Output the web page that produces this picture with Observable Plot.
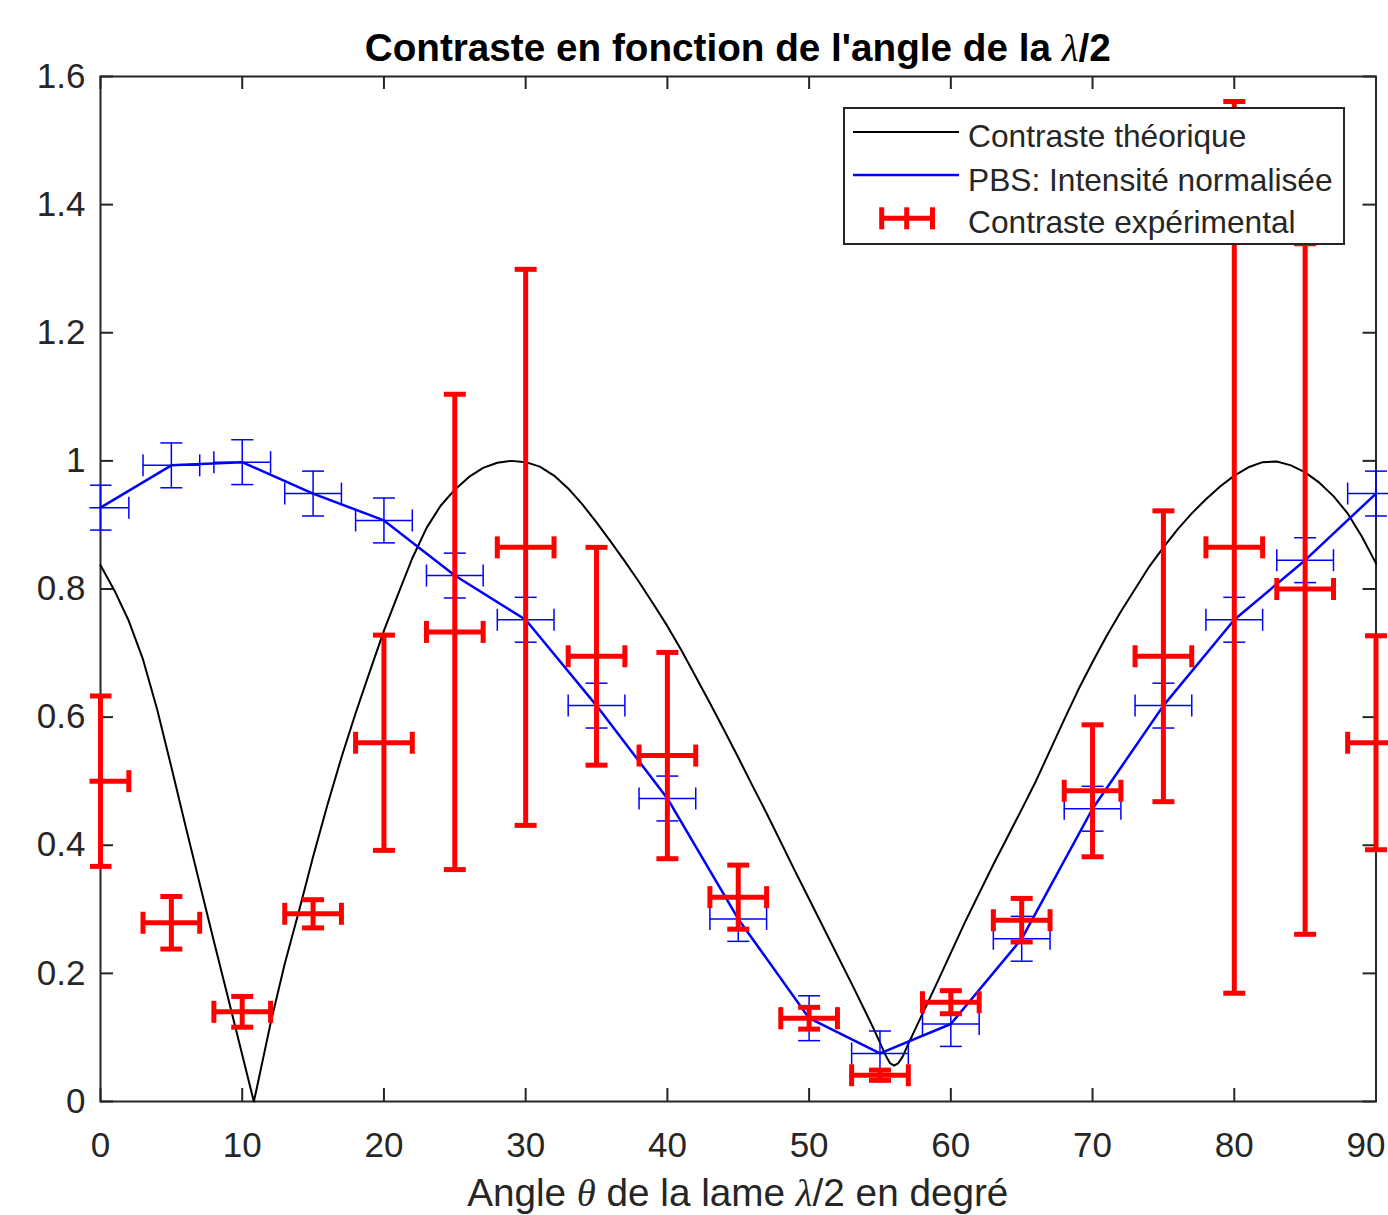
<!DOCTYPE html>
<html>
<head>
<meta charset="utf-8">
<script src="https://cdn.jsdelivr.net/npm/d3@7"></script>
<script src="https://cdn.jsdelivr.net/npm/@observablehq/plot@0.6"></script>
<style>
  html, body { margin: 0; padding: 0; background: #fff; }
  body { width: 1388px; height: 1215px; overflow: hidden; position: relative;
         font-family: "Liberation Sans", Arial, Helvetica, sans-serif; }
  #title { position: absolute; z-index: 2; left: 0; top: 28px; height: 39px;
           width: 1475.5px; text-align: center; font-size: 38.7px; line-height: 39px; font-weight: bold;
           color: #000; white-space: nowrap; }
  .tex { font-family: "Liberation Serif", "DejaVu Serif", serif; font-style: italic; font-weight: normal; }
  #chart { margin-top: 50px; }
  #chart svg { display: block; }
  #xlabel { position: absolute; z-index: 2; left: 0; top: 1174px; height: 38px; width: 1475.5px; text-align: center;
            font-size: 38.7px; line-height: 38px; color: #262626; white-space: nowrap; }
  #legend { position: absolute; left: 843px; top: 107px; width: 502px; height: 138px; z-index: 3; }
</style>
</head>
<body>
<div id="title">Contraste en fonction de l'angle de la <span class="tex">λ</span>/2</div>
<div id="chart"></div>
<div id="xlabel">Angle <span class="tex">θ</span> de la lame <span class="tex">λ</span>/2 en degré</div>
<div id="legend"></div>
<script>
// ---------- data ----------
const xTicks = [0, 10, 20, 30, 40, 50, 60, 70, 80, 90];
const yTicks = [0, 0.2, 0.4, 0.6, 0.8, 1, 1.2, 1.4, 1.6];

const angles = [0, 5, 10, 15, 20, 25, 30, 35, 40, 45, 50, 55, 60, 65, 70, 75, 80, 85, 90];
const angleErr = 2;

// PBS: intensité normalisée (blue)
const pbsValues = [0.927, 0.993, 0.998, 0.949, 0.907, 0.821, 0.752, 0.618, 0.473, 0.285,
                   0.130, 0.075, 0.121, 0.254, 0.457, 0.618, 0.752, 0.845, 0.949];
const pbsErr = [0.035, 0.035, 0.035, 0.035, 0.035, 0.035, 0.035, 0.035, 0.035, 0.035,
                0.035, 0.035, 0.035, 0.035, 0.035, 0.035, 0.035, 0.035, 0.035];

// Contraste expérimental (red)
const expValues = [0.500, 0.279, 0.140, 0.293, 0.560, 0.733, 0.865, 0.695, 0.540, 0.319,
                   0.130, 0.041, 0.155, 0.283, 0.485, 0.695, 0.865, 0.800, 0.560];
const expErr = [0.133, 0.041, 0.024, 0.022, 0.168, 0.371, 0.434, 0.170, 0.161, 0.050,
                0.017, 0.008, 0.018, 0.034, 0.103, 0.227, 0.696, 0.539, 0.167];

// Contraste théorique (black curve)
const theoryTheta = [0, 1, 2, 3, 4, 5, 6, 7, 8, 9, 10, 10.82, 11, 12, 13, 14, 15, 16, 17, 18, 19,
  20, 21, 22, 23, 24, 25, 26, 27, 28, 29, 30, 31, 32, 33, 34, 35, 36, 37, 38, 39,
  40, 41, 42, 43, 44, 45, 46, 47, 48, 49, 50, 51, 52, 53, 54, 54.5, 55, 55.4, 55.7, 56, 56.3, 56.6,
  57, 58, 59, 60, 61, 62, 63, 64, 65, 66, 67, 68, 69, 70, 71, 72, 73, 74, 75, 76, 77, 78, 79,
  80, 81, 82, 83, 84, 85, 86, 87, 88, 89, 90];
const theoryC = [0.837, 0.797, 0.750, 0.690, 0.612, 0.522, 0.430, 0.340, 0.250, 0.162, 0.073, 0.000, 0.018,
  0.122, 0.215, 0.297, 0.382, 0.462, 0.537, 0.606, 0.671,
  0.735, 0.792, 0.848, 0.895, 0.930, 0.955, 0.975, 0.989, 0.997, 1.000, 0.998, 0.991, 0.977, 0.957, 0.932,
  0.904, 0.874, 0.843, 0.811, 0.777,
  0.742, 0.704, 0.663, 0.622, 0.580, 0.537, 0.493, 0.450, 0.405, 0.360, 0.316, 0.272, 0.228, 0.184, 0.139,
  0.116, 0.092, 0.072, 0.060, 0.056, 0.060, 0.070,
  0.090, 0.137, 0.184, 0.232, 0.280, 0.325, 0.370, 0.413, 0.456, 0.500, 0.548, 0.596, 0.643, 0.686, 0.727,
  0.765, 0.800, 0.835, 0.865, 0.893, 0.918, 0.940, 0.960,
  0.977, 0.990, 0.998, 0.999, 0.993, 0.982, 0.966, 0.945, 0.918, 0.882, 0.840];

const legendLabels = ["Contraste théorique", "PBS: Intensité normalisée", "Contraste expérimental"];

// ---------- build tables ----------
const theory = theoryTheta.map((t, i) => ({theta: t, c: theoryC[i]}));
const pbs = angles.map((a, i) => ({theta: a, v: pbsValues[i], e: pbsErr[i]}));
const expt = angles.map((a, i) => ({theta: a, v: expValues[i], e: expErr[i]}));

const BLUE = "#0000ff", RED = "#ff0000", AX = "#262626";

// cap symbols (line segments of half-length r)
const hSeg = {draw(ctx, size) { const r = Math.sqrt(size / Math.PI); ctx.moveTo(-r, 0); ctx.lineTo(r, 0); }};
const vSeg = {draw(ctx, size) { const r = Math.sqrt(size / Math.PI); ctx.moveTo(0, -r); ctx.lineTo(0, r); }};

function errorBars(data, color, sw, cap) {
  return [
    Plot.ruleX(data, {x: "theta", y1: d => d.v - d.e, y2: d => d.v + d.e, stroke: color, strokeWidth: sw}),
    Plot.ruleY(data, {y: "v", x1: d => d.theta - angleErr, x2: d => d.theta + angleErr, stroke: color, strokeWidth: sw}),
    Plot.dot(data, {x: "theta", y: d => d.v + d.e, symbol: hSeg, r: cap, stroke: color, strokeWidth: sw, fill: "none"}),
    Plot.dot(data, {x: "theta", y: d => d.v - d.e, symbol: hSeg, r: cap, stroke: color, strokeWidth: sw, fill: "none"}),
    Plot.dot(data, {x: d => d.theta - angleErr, y: "v", symbol: vSeg, r: cap, stroke: color, strokeWidth: sw, fill: "none"}),
    Plot.dot(data, {x: d => d.theta + angleErr, y: "v", symbol: vSeg, r: cap, stroke: color, strokeWidth: sw, fill: "none"})
  ];
}

const W = 1388;
const mT = 26, mR = 12.5, mB = 79, mL = 100;
const innerH = 1025;
const H = mT + innerH + mB;
const innerW = W - mL - mR;
const tickLen = 13;

const chart = Plot.plot({
  width: W, height: H,
  marginTop: mT, marginRight: mR, marginBottom: mB, marginLeft: mL,
  x: {domain: [0, 90]},
  y: {domain: [0, 1.6]},
  style: {fontFamily: "'Liberation Sans', Arial, Helvetica, sans-serif", fontSize: "35px", color: AX, background: "white"},
  marks: [
    Plot.frame({stroke: AX, strokeWidth: 2}),
    Plot.ruleX(xTicks, {x: d => d, stroke: AX, strokeWidth: 2, insetTop: innerH - tickLen}),
    Plot.ruleX(xTicks, {x: d => d, stroke: AX, strokeWidth: 2, insetBottom: innerH - tickLen}),
    Plot.ruleY(yTicks, {y: d => d, stroke: AX, strokeWidth: 2, insetRight: innerW - tickLen}),
    Plot.ruleY(yTicks, {y: d => d, stroke: AX, strokeWidth: 2, insetLeft: innerW - tickLen}),
    Plot.axisX({ticks: xTicks.slice(0, -1), tickSize: 0, tickPadding: 31, fontSize: 35, label: null, tickFormat: d => String(d)}),
    Plot.axisX({ticks: xTicks.slice(-1), tickSize: 0, tickPadding: 31, fontSize: 35, label: null, tickFormat: d => String(d), dx: -10}),
    Plot.axisY({ticks: yTicks, tickSize: 0, tickPadding: 15, fontSize: 35, label: null, tickFormat: d => String(d)}),
    Plot.line(theory, {x: "theta", y: "c", stroke: "black", strokeWidth: 2}),
    Plot.line(pbs, {x: "theta", y: "v", stroke: BLUE, strokeWidth: 2.5}),
    ...errorBars(pbs, BLUE, 1.5, 11),
    ...errorBars(expt, RED, 5, 11)
  ]
});
document.getElementById("chart").appendChild(chart);

// clip the error bars slightly outside the axes box, like the original figure
const svgNS = "http://www.w3.org/2000/svg";
const defs = document.createElementNS(svgNS, "defs");
const cp = document.createElementNS(svgNS, "clipPath");
cp.setAttribute("id", "dataclip");
const cr = document.createElementNS(svgNS, "rect");
cr.setAttribute("x", mL - 10.5); cr.setAttribute("y", 0);
cr.setAttribute("width", W); cr.setAttribute("height", H);
cp.appendChild(cr); defs.appendChild(cp);
chart.insertBefore(defs, chart.firstChild);
chart.querySelectorAll(`g[stroke="${RED}"], g[stroke="${BLUE}"]`)
  .forEach(g => g.setAttribute("clip-path", "url(#dataclip)"));

// ---------- legend ----------
const lg = d3.select("#legend").append("svg").attr("width", 502).attr("height", 138)
  .style("display", "block");
lg.append("rect").attr("x", 1).attr("y", 1).attr("width", 500).attr("height", 136)
  .attr("fill", "white").attr("stroke", AX).attr("stroke-width", 2);
lg.append("line").attr("x1", 10).attr("x2", 116).attr("y1", 25).attr("y2", 25)
  .attr("stroke", "black").attr("stroke-width", 2);
lg.append("line").attr("x1", 10).attr("x2", 116).attr("y1", 68).attr("y2", 68)
  .attr("stroke", BLUE).attr("stroke-width", 2.5);
const rg = lg.append("g").attr("stroke", RED).attr("stroke-width", 5);
rg.append("line").attr("x1", 38.7).attr("x2", 89.5).attr("y1", 111.3).attr("y2", 111.3);
rg.append("line").attr("x1", 38.7).attr("x2", 38.7).attr("y1", 100.3).attr("y2", 122.3);
rg.append("line").attr("x1", 89.5).attr("x2", 89.5).attr("y1", 100.3).attr("y2", 122.3);
rg.append("line").attr("x1", 63.7).attr("x2", 63.7).attr("y1", 100.3).attr("y2", 122.3);
lg.selectAll("text.lbl").data(legendLabels).join("text")
  .attr("x", 125).attr("y", (d, i) => [39.7, 83.7, 126.3][i])
  .attr("font-family", "'Liberation Sans', Arial, Helvetica, sans-serif")
  .attr("font-size", 31.7).attr("fill", AX).text(d => d);
</script>
</body>
</html>
